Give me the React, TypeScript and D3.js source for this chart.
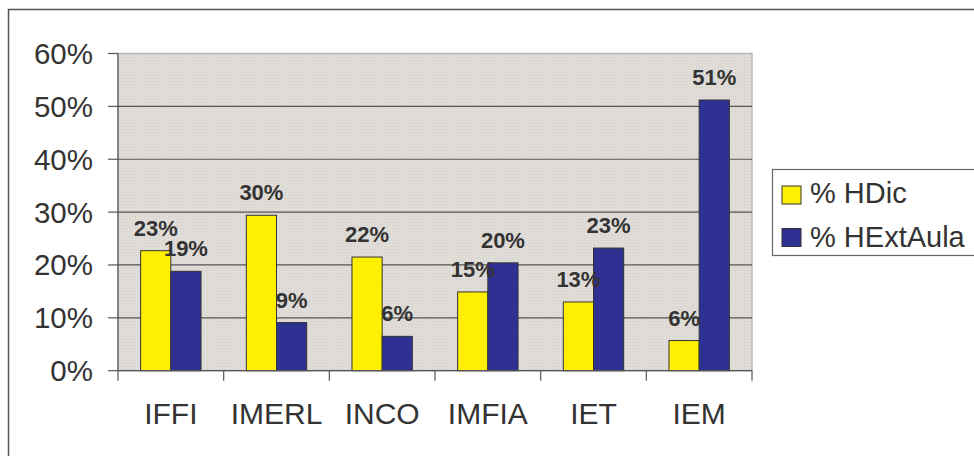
import React from "react";
import * as d3 from "d3";

const categories = ["IFFI", "IMERL", "INCO", "IMFIA", "IET", "IEM"];
const seriesNames = ["% HDic", "% HExtAula"];
const hDic = [22.7, 29.4, 21.5, 14.9, 13.0, 5.7];
const hExtAula = [18.8, 9.1, 6.5, 20.4, 23.2, 51.2];
const labelsHDic = ["23%", "30%", "22%", "15%", "13%", "6%"];
const labelsHExt = ["19%", "9%", "6%", "20%", "23%", "51%"];
const yTicks = [0, 10, 20, 30, 40, 50, 60];
const colors = ["#FFEF00", "#2E3192"];

const W = 974;
const H = 456;
const plot = { left: 118, right: 752, top: 53.5, bottom: 370.7 };

export default function App() {
  const x = d3.scaleBand<string>().domain(categories).range([plot.left, plot.right]).paddingInner(0).paddingOuter(0);
  const y = d3.scaleLinear().domain([0, 60]).range([plot.bottom, plot.top]);
  const bw = x.bandwidth() / 3.5;
  const groupOffset = (x.bandwidth() - 2 * bw) / 2;
  const series = [hDic, hExtAula];
  const labels = [labelsHDic, labelsHExt];
  const font = "'Liberation Sans', Arial, sans-serif";
  const boundaries = categories.map((c) => x(c)!).concat([plot.right]);

  return (
    <div style={{ position: "fixed", left: 0, top: 0, width: W, height: H, background: "#fff" }}>
      <svg width={W} height={H} style={{ display: "block" }}>
        <defs>
          <pattern id="dots" width="3" height="3" patternUnits="userSpaceOnUse">
            <rect width="3" height="3" fill="#e2dfdb" />
            <rect x="0" y="0" width="1" height="1" fill="#cfcac5" />
            <rect x="1.5" y="1.5" width="1" height="1" fill="#d3cfca" />
          </pattern>
        </defs>
        <rect x={8.5} y={9.5} width={W + 10} height={H + 10} fill="#fff" stroke="#555" strokeWidth={1.5} />
        <rect
          x={plot.left}
          y={plot.top}
          width={plot.right - plot.left}
          height={plot.bottom - plot.top}
          fill="url(#dots)"
          stroke="#bdb8b4"
          strokeWidth={1.5}
        />
        {yTicks.map((t) => (
          <g key={t}>
            {t > 0 && t < 60 && (
              <line x1={plot.left} x2={plot.right} y1={y(t)} y2={y(t)} stroke="#555" strokeWidth={1.2} />
            )}
            <line x1={108} x2={plot.left} y1={y(t)} y2={y(t)} stroke="#555" strokeWidth={1.2} />
            <text
              x={93}
              y={y(t) + 10.5}
              textAnchor="end"
              fontFamily={font}
              fontSize={29.5}
              fill="#333"
            >
              {t}%
            </text>
          </g>
        ))}
        <line x1={plot.left} x2={plot.left} y1={plot.top} y2={plot.bottom} stroke="#555" strokeWidth={1.2} />
        {series.map((vals, si) =>
          vals.map((v, i) => {
            const bx = x(categories[i])! + groupOffset + si * bw;
            return (
              <rect
                key={`${si}-${i}`}
                x={bx}
                y={y(v)}
                width={bw}
                height={plot.bottom - y(v)}
                fill={colors[si]}
                stroke="#333"
                strokeWidth={1}
              />
            );
          })
        )}
        <line x1={plot.left} x2={plot.right} y1={plot.bottom} y2={plot.bottom} stroke="#555" strokeWidth={1.2} />
        {boundaries.map((b, i) => (
          <line key={i} x1={b} x2={b} y1={plot.bottom} y2={plot.bottom + 10} stroke="#555" strokeWidth={1.2} />
        ))}
        {series.map((vals, si) =>
          vals.map((v, i) => {
            const bx = x(categories[i])! + groupOffset + si * bw + bw / 2;
            return (
              <text
                key={`l${si}-${i}`}
                x={bx}
                y={y(v) - 15}
                textAnchor="middle"
                fontFamily={font}
                fontWeight="bold"
                fontSize={22}
                fill="#333"
              >
                {labels[si][i]}
              </text>
            );
          })
        )}
        {categories.map((c) => (
          <text
            key={c}
            x={x(c)! + x.bandwidth() / 2}
            y={424}
            textAnchor="middle"
            fontFamily={font}
            fontSize={30}
            fill="#333"
          >
            {c}
          </text>
        ))}
        <rect x={772.5} y={169.5} width={220} height={86} fill="#fff" stroke="#666" strokeWidth={1.2} />
        {seriesNames.map((n, i) => (
          <g key={n}>
            <rect
              x={782}
              y={186 + i * 42.5}
              width={19}
              height={18}
              fill={colors[i]}
              stroke="#333"
              strokeWidth={1}
            />
            <text x={810} y={203 + i * 43.5} fontFamily={font} fontSize={29} fill="#333">
              {n}
            </text>
          </g>
        ))}
      </svg>
    </div>
  );
}
